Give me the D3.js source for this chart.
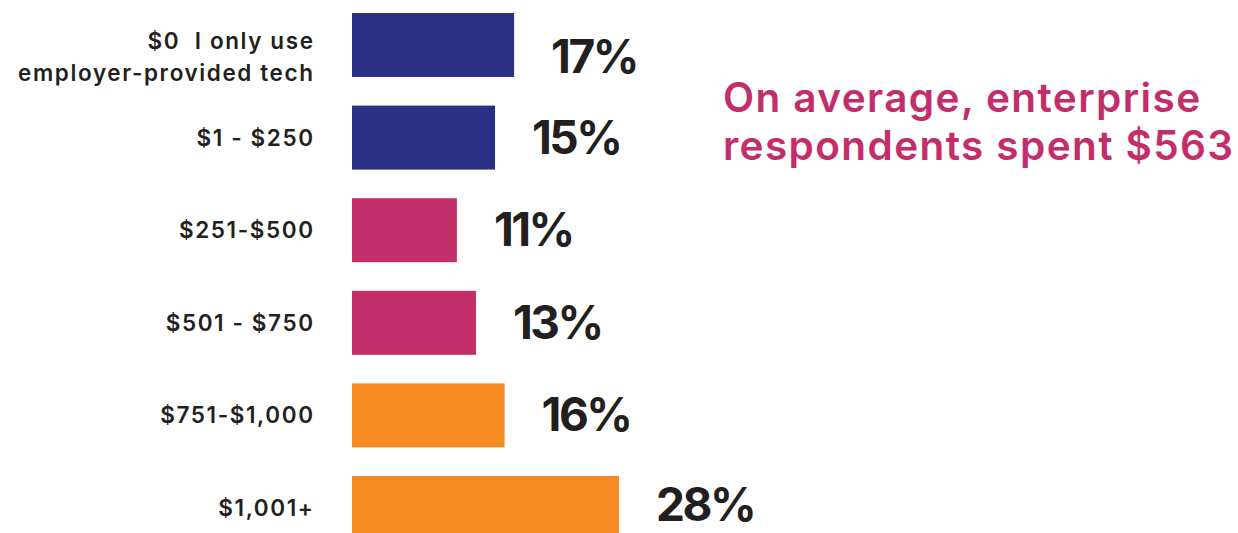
<!DOCTYPE html>
<html>
<head>
<meta charset="utf-8">
<script src="https://cdn.jsdelivr.net/npm/d3@7"></script>
<style>
  html, body { margin: 0; padding: 0; background: #ffffff; }
  svg { display: block; }
  text { font-family: Inter, "Open Sans", sans-serif; white-space: pre; }
</style>
</head>
<body>
<svg id="chart" width="1238" height="533"></svg>
<script>
// Spending brackets (each entry is one line of the row label)
const categories = [
  ["$0  I only use", "employer-provided tech"],
  ["$1 - $250"],
  ["$251-$500"],
  ["$501 - $750"],
  ["$751-$1,000"],
  ["$1,001+"]
];
// Share of respondents, percent
const shares = [17, 15, 11, 13, 16, 28];
// Colour group of each bar
const groups = ["low", "low", "mid", "mid", "high", "high"];
const groupColors = { low: "#2B3087", mid: "#C32E6A", high: "#F68B22" };
const noteLines = ["On average, enterprise", "respondents spent $563"];

const svg = d3.select("#chart");
const H = 533;
const ink = "#231F20";

const idx = d3.range(shares.length);

const y = d3.scaleBand()
  .domain(idx)
  .range([13, 540])
  .paddingInner(0.309)
  .paddingOuter(0);

const x = d3.scaleLinear()
  .domain([0, 28])
  .range([352, 619]);

const rows = svg.append("g").selectAll("g.row")
  .data(idx)
  .join("g")
  .attr("class", "row");

// bars
rows.append("rect")
  .attr("x", x(0))
  .attr("y", i => y(i))
  .attr("width", i => x(shares[i]) - x(0))
  .attr("height", y.bandwidth())
  .attr("fill", i => groupColors[groups[i]]);

// rows with a wrapped label drop their text by half a line
const shift = i => (categories[i].length - 1) * 12;
const mid = i => y(i) + y.bandwidth() / 2 + shift(i);

// category labels, right aligned (x nudged for the trailing letter-spacing)
const lineH = 32;
const labelSpacing = 1.6;
rows.append("text")
  .attr("text-anchor", "end")
  .attr("font-size", 22.5)
  .attr("font-weight", 600)
  .attr("letter-spacing", labelSpacing)
  .attr("fill", ink)
  .each(function (i) {
    const lines = categories[i];
    const first = mid(i) + 8 - (lines.length - 1) * lineH / 2;
    d3.select(this).selectAll("tspan")
      .data(lines)
      .join("tspan")
      .attr("x", 313 + labelSpacing)
      .attr("y", (d, k) => first + k * lineH)
      .text(d => d);
  });

// value labels, kept clear of the bottom edge
rows.append("text")
  .attr("x", i => x(shares[i]) + 37)
  .attr("y", i => Math.min(mid(i) + 16, H - 12))
  .attr("font-size", 46)
  .attr("font-weight", 700)
  .attr("letter-spacing", -2.5)
  .attr("fill", ink)
  .text(i => shares[i] + "%");

// average note
svg.append("text")
  .attr("font-size", 40.5)
  .attr("font-weight", 600)
  .attr("letter-spacing", 1.4)
  .attr("fill", "#C32E6A")
  .selectAll("tspan")
  .data(noteLines)
  .join("tspan")
  .attr("x", 723)
  .attr("y", (d, k) => 112 + k * 48)
  .text(d => d);
</script>
</body>
</html>
